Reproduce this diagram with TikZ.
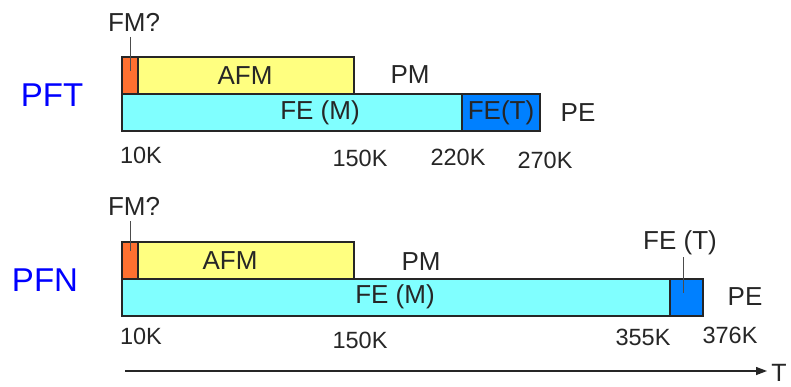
\documentclass[tikz,border=0pt]{standalone}
\usepackage{fontspec}
\setmainfont{Liberation Sans}
\usetikzlibrary{arrows.meta}
\definecolor{cOrange}{RGB}{255,112,48}
\definecolor{cYellow}{RGB}{255,255,128}
\definecolor{cCyan}{RGB}{128,255,255}
\definecolor{cBlue}{RGB}{0,128,255}
\definecolor{cLabel}{RGB}{0,0,255}
\begin{document}
\begin{tikzpicture}[x=1pt,y=-1pt,
  bar/.style={draw=black!85,line width=1.6pt,inner sep=0pt,outer sep=0pt},
  txt/.style={font=\fontsize{26}{30}\selectfont,text=black!85,inner sep=0pt},
  num/.style={font=\fontsize{23.5}{28}\selectfont,text=black!85,inner sep=0pt},
  big/.style={font=\fontsize{33}{38}\selectfont,text=cLabel,inner sep=0pt},
  pin/.style={draw=black!70,line width=0.8pt}]
\useasboundingbox (0,0) rectangle (791,387);
% ---------- PFT ----------
\path[bar,fill=cCyan] (122,94) rectangle (462,131);
\path[bar,fill=cBlue] (462,94) rectangle (540,131);
\path[bar,fill=cYellow] (138,57) rectangle (354,94);
\path[bar,fill=cOrange] (122,57) rectangle (138,94);
\node[txt] (tfm) at (134,22) {FM?};
\coordinate (tfmA) at (130,37);
\coordinate (tfmB) at (130,71);
\draw[pin] (tfmA) -- (tfmB);
\node[txt] (tafm) at (245,76) {AFM};
\node[txt] (tpm) at (410,75) {PM};
\node[txt] (tfem) at (320,113) {FE (M)};
\node[txt] (tfet) at (501,113) {FE(T)};
\node[txt] (tpe) at (578,113) {PE};
\node[num] (t10) at (141,155) {10K};
\node[num] (t150) at (360,158) {150K};
\node[num] (t220) at (458,157) {220K};
\node[num] (t270) at (545,160) {270K};
\node[big] (pft) at (52,95) {PFT};
% ---------- PFN ----------
\path[bar,fill=cCyan] (122,279) rectangle (670,316);
\path[bar,fill=cBlue] (670,279) rectangle (703,316);
\path[bar,fill=cYellow] (138,242) rectangle (354,279);
\path[bar,fill=cOrange] (122,242) rectangle (138,279);
\node[txt] (nfm) at (134,206) {FM?};
\coordinate (nfmA) at (130,221);
\coordinate (nfmB) at (130,251);
\draw[pin] (nfmA) -- (nfmB);
\node[txt] (nafm) at (230,261) {AFM};
\node[txt] (npm) at (421,262) {PM};
\node[txt] (nfem) at (395,297) {FE (M)};
\node[txt] (nfet) at (680,243) {FE (T)};
\coordinate (nfetA) at (683,257);
\coordinate (nfetB) at (683,293);
\draw[pin] (nfetA) -- (nfetB);
\node[txt] (npe) at (745,297) {PE};
\node[num] (n10) at (141,336) {10K};
\node[num] (n150) at (360,340) {150K};
\node[num] (n355) at (643,337) {355K};
\node[num] (n376) at (730,335) {376K};
\node[big] (pfn) at (45,280) {PFN};
% ---------- axis ----------
\coordinate (axA) at (125,371);
\coordinate (axB) at (767,371);
\node[font=\fontsize{25}{30}\selectfont,text=black!85,inner sep=0pt] (tT) at (779,373) {T};
\draw[line width=1.3pt,black!85,-{Triangle[length=11pt,width=8pt]}] (axA) -- (axB);
\end{tikzpicture}
\end{document}
